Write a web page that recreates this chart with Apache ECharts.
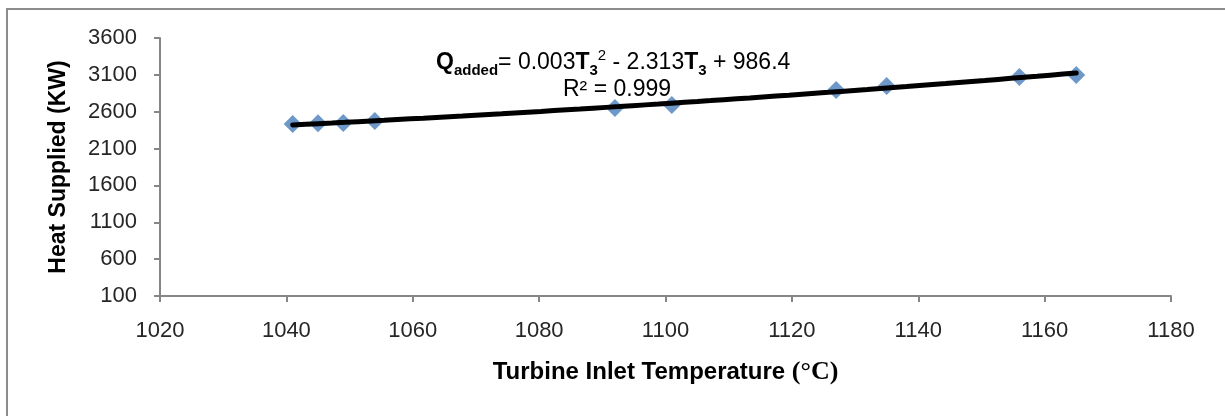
<!DOCTYPE html>
<html>
<head>
<meta charset="utf-8">
<script src="https://cdn.jsdelivr.net/npm/echarts@6/dist/echarts.min.js"></script>
<style>
html,body{margin:0;padding:0;background:#fff;}
#chart{width:1225px;height:416px;}
</style>
</head>
<body>
<div id="chart"></div>
<script>
// Data
const temperatures = [1041, 1045, 1049, 1054, 1092, 1101, 1127, 1135, 1156, 1165];
const heatSupplied = [2433, 2443, 2448, 2474, 2650, 2691, 2895, 2949, 3071, 3098];
const yTickValues = [100, 600, 1100, 1600, 2100, 2600, 3100, 3600];
const xTickValues = [1020, 1040, 1060, 1080, 1100, 1120, 1140, 1160, 1180];
const xTitle = 'Turbine Inlet Temperature ';
const xTitleUnit = '(°C)';
const yTitle = 'Heat Supplied (KW)';
const rSquared = 'R² = 0.999';

// Polynomial (order 2) trendline by least squares from the points
function quadFit(xs, ys) {
  const n = xs.length;
  const m = xs.reduce((a, b) => a + b, 0) / n;
  let S = [0,0,0,0,0], T = [0,0,0];
  for (let i = 0; i < n; i++) {
    const x = xs[i] - m, y = ys[i];
    for (let k = 0; k < 5; k++) S[k] += Math.pow(x, k);
    for (let k = 0; k < 3; k++) T[k] += Math.pow(x, k) * y;
  }
  const A = [[S[0],S[1],S[2],T[0]],[S[1],S[2],S[3],T[1]],[S[2],S[3],S[4],T[2]]];
  for (let i = 0; i < 3; i++) {
    for (let j = i + 1; j < 3; j++) {
      const f = A[j][i] / A[i][i];
      for (let k = i; k < 4; k++) A[j][k] -= f * A[i][k];
    }
  }
  const c = [0,0,0];
  for (let i = 2; i >= 0; i--) {
    let s = A[i][3];
    for (let k = i + 1; k < 3; k++) s -= A[i][k] * c[k];
    c[i] = s / A[i][i];
  }
  return x => c[0] + c[1] * (x - m) + c[2] * (x - m) * (x - m);
}
const fit = quadFit(temperatures, heatSupplied);
const tMin = temperatures[0], tMax = temperatures[temperatures.length - 1];
const trend = [];
for (let i = 0; i <= 60; i++) {
  const t = tMin + (tMax - tMin) * i / 60;
  trend.push([t, fit(t)]);
}

const chart = echarts.init(document.getElementById('chart'), null, {renderer: 'canvas'});
const FONT = 'Liberation Sans';
const axisLineStyle = {color: '#868686', width: 2};
const plain = v => String(v);

chart.setOption({
  animation: false,
  backgroundColor: '#ffffff',
  grid: {left: 160, right: 54, top: 38, bottom: 120, containLabel: false},
  graphic: [
    {
      type: 'rect', silent: true, z: -1,
      shape: {x: 7, y: 9, width: 1240, height: 440},
      style: {fill: 'none', stroke: '#8c8c8c', lineWidth: 2}
    },
    {
      type: 'text', left: 436, top: 48, z: 10,
      style: {
        text: '{qb|Q}{sub|added}{n|= 0.003}{b|T}{sub|3}{sup|2}{n| - 2.313}{b|T}{sub|3}{n| + 986.4}',
        rich: {
          qb: {fontFamily: FONT, fontSize: 23, fontWeight: 'bold', fill: '#000', verticalAlign: 'middle', lineHeight: 30},
          b: {fontFamily: FONT, fontSize: 23, fontWeight: 'bold', fill: '#000', verticalAlign: 'middle', lineHeight: 30},
          n: {fontFamily: FONT, fontSize: 23, fill: '#000', verticalAlign: 'middle', lineHeight: 30},
          sub: {fontFamily: FONT, fontSize: 15, fontWeight: 'bold', fill: '#000', verticalAlign: 'bottom', lineHeight: 30},
          sup: {fontFamily: FONT, fontSize: 15, fill: '#000', verticalAlign: 'top', lineHeight: 30}
        }
      }
    },
    {
      type: 'text', left: 563, top: 78, z: 10,
      style: {text: rSquared, fontFamily: FONT, fontSize: 23, fill: '#000'}
    }
  ],
  xAxis: {
    type: 'value',
    min: 1020, max: 1180, interval: 20,
    name: xTitle + '{u|' + xTitleUnit + '}',
    nameLocation: 'middle', nameGap: 63,
    nameTextStyle: {
      fontFamily: FONT, fontSize: 24, fontWeight: 'bold', color: '#000',
      rich: {u: {fontFamily: 'Liberation Serif', fontSize: 26, color: '#000'}}
    },
    axisLine: {show: true, lineStyle: axisLineStyle},
    axisTick: {show: true, inside: false, length: 6, lineStyle: axisLineStyle, customValues: xTickValues},
    axisLabel: {fontFamily: FONT, fontSize: 22, color: '#262626', margin: 24, formatter: plain, customValues: xTickValues},
    splitLine: {show: false}
  },
  yAxis: {
    type: 'value',
    min: 100, max: 3600, interval: 500,
    name: yTitle,
    nameLocation: 'middle', nameGap: 90,
    nameTextStyle: {fontFamily: FONT, fontSize: 23, fontWeight: 'bold', color: '#000'},
    axisLine: {show: true, lineStyle: axisLineStyle},
    axisTick: {show: true, inside: false, length: 6, lineStyle: axisLineStyle, customValues: yTickValues},
    axisLabel: {fontFamily: FONT, fontSize: 22, color: '#262626', margin: 23, formatter: plain, customValues: yTickValues},
    splitLine: {show: false}
  },
  series: [
    {
      name: 'Heat Supplied',
      type: 'scatter',
      symbol: 'diamond',
      symbolSize: 18,
      itemStyle: {color: '#4a7ebb'},
      data: temperatures.map((t, i) => [t, heatSupplied[i]]),
      z: 2
    },
    {
      name: 'Poly. (Heat Supplied)',
      type: 'line',
      data: trend,
      showSymbol: false,
      smooth: false,
      lineStyle: {color: '#000', width: 5, cap: 'round'},
      z: 3
    }
  ]
});
</script>
</body>
</html>
